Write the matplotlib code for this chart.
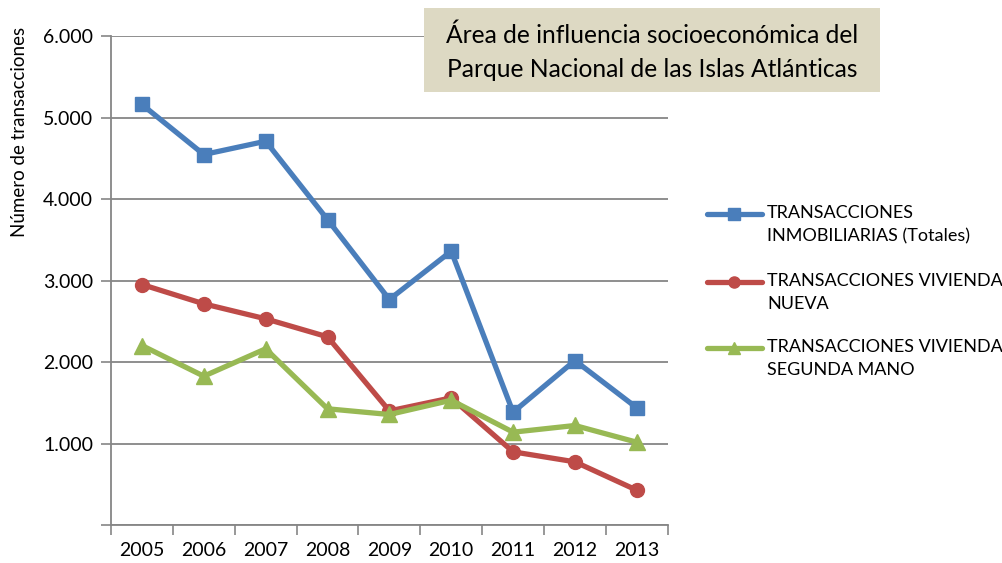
import numpy as np
import matplotlib
matplotlib.use('Agg')
import matplotlib.pyplot as plt
from matplotlib.ticker import FuncFormatter, FixedLocator
from matplotlib.lines import Line2D
from matplotlib.patches import Rectangle

plt.rcParams['font.family'] = ['Lato', 'DejaVu Sans']

# Datos
anios = ['2005', '2006', '2007', '2008', '2009', '2010', '2011', '2012', '2013']
totales = [5160, 4546, 4709, 3748, 2767, 3360, 1384, 2018, 1438]
vivienda_nueva = [2951, 2714, 2530, 2309, 1400, 1560, 898, 775, 427]
segunda_mano = [2202, 1826, 2162, 1426, 1356, 1531, 1139, 1221, 1016]

series = [
    ('TRANSACCIONES\nINMOBILIARIAS (Totales)', totales, '#4a7ebb', 's'),
    ('TRANSACCIONES VIVIENDA\nNUEVA', vivienda_nueva, '#be4b48', 'o'),
    ('TRANSACCIONES VIVIENDA\nSEGUNDA MANO', segunda_mano, '#98b954', '^'),
]

W, H = 1003, 563
fig = plt.figure(figsize=(W / 100, H / 100), dpi=100)
ax = fig.add_axes([0.1107, 0.0675, 0.555, 0.8685])

x = np.arange(len(anios))
for label, vals, color, marker in series:
    ax.plot(x, vals, color=color, linewidth=3.8, marker=marker,
            markersize=10 if marker != '^' else 11, label=label, zorder=3)

ax.set_xlim(-0.5, len(anios) - 0.5)
ax.set_ylim(0, 6000)
ax.set_yticks(np.arange(0, 6001, 1000))
ax.yaxis.set_major_formatter(FuncFormatter(
    lambda v, p: '' if v == 0 else f'{int(v):,}'.replace(',', '.')))

ax.set_xticks(x)
ax.set_xticklabels(anios)
ax.xaxis.set_minor_locator(FixedLocator(np.arange(-0.5, len(anios), 1.0)))
ax.tick_params(axis='x', which='major', length=0, pad=12, labelsize=14)
ax.tick_params(axis='x', which='minor', length=7, width=1.2, color='#868686', direction='out')
ax.tick_params(axis='y', length=7, width=1.2, color='#868686', labelsize=14, pad=6)

ax.grid(axis='y', color='#868686', linewidth=1.3, zorder=0)
for s in ['top', 'right']:
    ax.spines[s].set_visible(False)
for s in ['left', 'bottom']:
    ax.spines[s].set_color('#868686')
    ax.spines[s].set_linewidth(1.3)

fig.text(0.019, 0.765, 'Número de transacciones', rotation=90, fontsize=13.5,
         ha='center', va='center')

# Cuadro de título
fig.add_artist(Rectangle((424 / W, 1 - 92 / H), 456 / W, 84 / H,
                         transform=fig.transFigure, facecolor='#ddd9c3',
                         edgecolor='none', zorder=5))
fig.text(652 / W, 1 - 52.5 / H,
         'Área de influencia socioeconómica del\nParque Nacional de las Islas Atlánticas',
         fontsize=17.7, ha='center', va='center', linespacing=1.6, zorder=6)

# Leyenda manual (líneas de dos renglones con más interlineado)
leg_y = [214, 282, 348]
for (label, vals, color, marker), yy in zip(series, leg_y):
    yf = 1 - yy / H
    fig.add_artist(Line2D([707 / W, 762 / W], [yf, yf], transform=fig.transFigure,
                          color=color, linewidth=3.8, solid_capstyle='round'))
    fig.add_artist(Line2D([734.5 / W], [yf], transform=fig.transFigure,
                          color=color, marker=marker, markersize=8 if marker != '^' else 9,
                          linestyle='none'))
    fig.text(767 / W, yf + 9 / H, label, fontsize=13, ha='left', va='top',
             linespacing=1.55)

fig.savefig('out.png', dpi=100)
